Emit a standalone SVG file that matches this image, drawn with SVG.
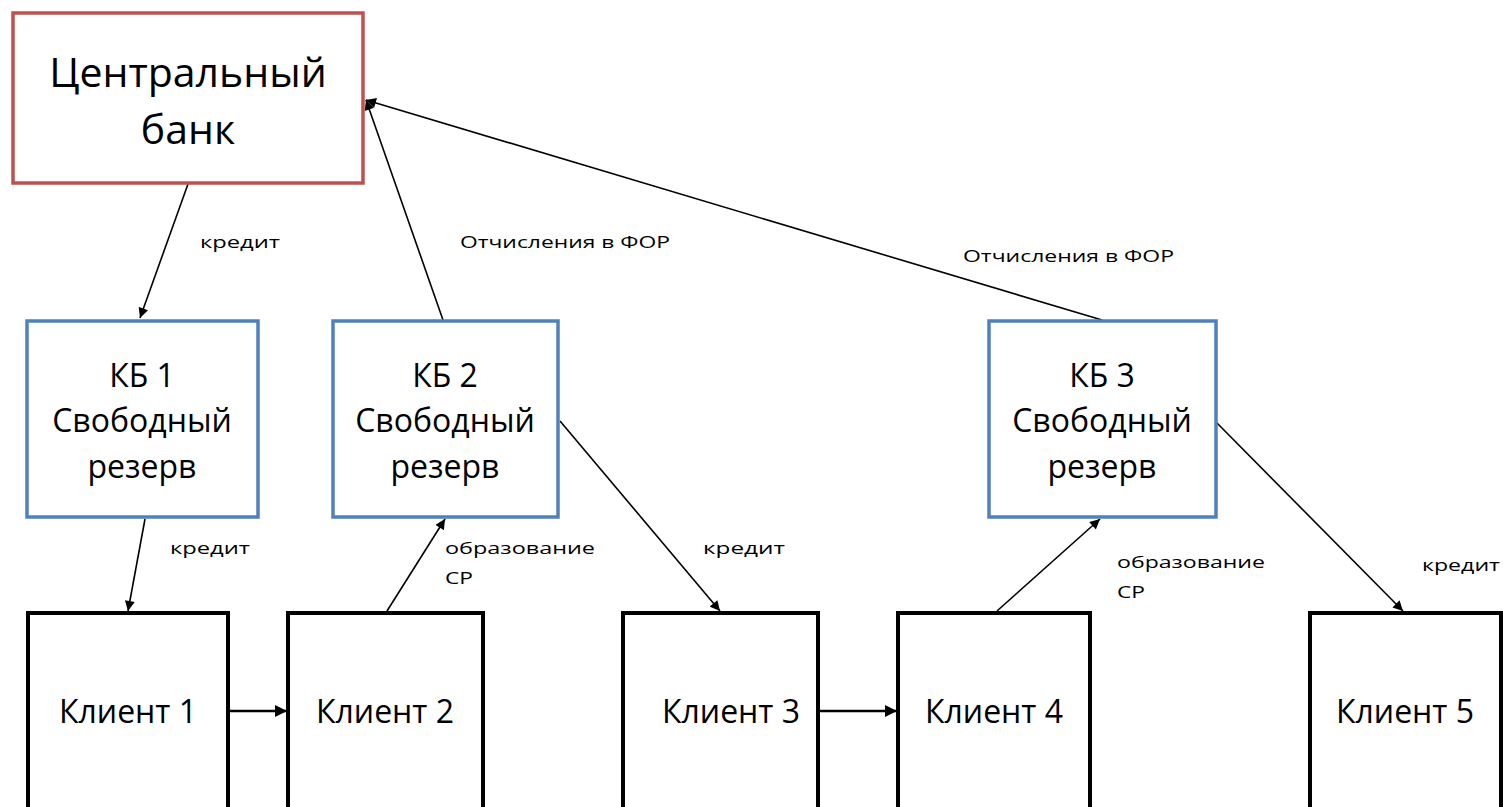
<svg xmlns="http://www.w3.org/2000/svg" width="1503" height="807" viewBox="0 0 1503 807">
<style>
.big{font-family:"Open Sans","Liberation Sans",sans-serif;font-size:41px;fill:#000;text-anchor:middle}
.mid{font-family:"Open Sans","Liberation Sans",sans-serif;font-size:32px;fill:#000;text-anchor:middle}
.lbl{font-family:"Open Sans","Liberation Sans",sans-serif;font-size:17px;fill:#000}
.cb{fill:#fff;stroke:#C0504D;stroke-width:3.5}
.kb{fill:#fff;stroke:#4F81BD;stroke-width:3.5}
.cl{fill:#fff;stroke:#000;stroke-width:4}
.ln{stroke:#000;stroke-width:1.6;fill:none;marker-end:url(#ah)}
.ln2{stroke:#000;stroke-width:2.5;fill:none;marker-end:url(#ah2)}
</style>
<defs>
<marker id="ah" viewBox="0 0 10 10" refX="10" refY="5" markerWidth="11" markerHeight="10" markerUnits="userSpaceOnUse" orient="auto"><path d="M0,0 L10,5 L0,10 z" fill="#000"/></marker>
<marker id="ah2" viewBox="0 0 10 10" refX="10" refY="5" markerWidth="12" markerHeight="12" markerUnits="userSpaceOnUse" orient="auto"><path d="M0,0 L10,5 L0,10 z" fill="#000"/></marker>
</defs>
<rect width="1503" height="807" fill="#fff"/>
<g id="connectors">
<line class="ln" x1="188" y1="184" x2="140" y2="318"/>
<line class="ln" x1="443" y1="320" x2="366" y2="100"/>
<line class="ln" x1="1102" y1="320" x2="366" y2="100"/>
<line class="ln" x1="145" y1="519" x2="128" y2="611"/>
<line class="ln" x1="387" y1="611" x2="445" y2="519"/>
<line class="ln" x1="560" y1="421" x2="720" y2="611"/>
<line class="ln" x1="997" y1="611" x2="1100" y2="519"/>
<line class="ln" x1="1216" y1="422" x2="1403" y2="611"/>
<line class="ln2" x1="230" y1="711" x2="287" y2="711"/>
<line class="ln2" x1="820" y1="711" x2="897" y2="711"/>
<text class="lbl" x="200" y="248" textLength="80" lengthAdjust="spacingAndGlyphs">кредит</text>
<text class="lbl" x="460" y="248" textLength="210" lengthAdjust="spacingAndGlyphs">Отчисления в ФОР</text>
<text class="lbl" x="963" y="262" textLength="211" lengthAdjust="spacingAndGlyphs">Отчисления в ФОР</text>
<text class="lbl" x="170" y="554" textLength="80" lengthAdjust="spacingAndGlyphs">кредит</text>
<text class="lbl" x="445" y="554" textLength="150" lengthAdjust="spacingAndGlyphs">образование</text>
<text class="lbl" x="445" y="584" textLength="28" lengthAdjust="spacingAndGlyphs">СР</text>
<text class="lbl" x="703" y="554" textLength="82" lengthAdjust="spacingAndGlyphs">кредит</text>
<text class="lbl" x="1117" y="568" textLength="148" lengthAdjust="spacingAndGlyphs">образование</text>
<text class="lbl" x="1117" y="598" textLength="28" lengthAdjust="spacingAndGlyphs">СР</text>
<text class="lbl" x="1422" y="571" textLength="78" lengthAdjust="spacingAndGlyphs">кредит</text>
</g>
<g id="cb"><rect class="cb" x="13" y="13" width="350" height="170"/><text class="big" x="188" y="87">Центральный</text><text class="big" x="188" y="144">банк</text></g>
<g id="kb1"><rect class="kb" x="27" y="321" width="231" height="196"/><text class="mid" x="142" y="387">КБ 1</text><text class="mid" x="142" y="432">Свободный</text><text class="mid" x="142" y="478">резерв</text></g>
<g id="kb2"><rect class="kb" x="333" y="321" width="225" height="196"/><text class="mid" x="445" y="387">КБ 2</text><text class="mid" x="445" y="432">Свободный</text><text class="mid" x="445" y="478">резерв</text></g>
<g id="kb3"><rect class="kb" x="989" y="321" width="227" height="196"/><text class="mid" x="1102" y="387">КБ 3</text><text class="mid" x="1102" y="432">Свободный</text><text class="mid" x="1102" y="478">резерв</text></g>
<g id="c1"><rect class="cl" x="28" y="613" width="200" height="200"/><text class="mid" x="128" y="723">Клиент 1</text></g>
<g id="c2"><rect class="cl" x="288" y="613" width="195" height="200"/><text class="mid" x="385" y="723">Клиент 2</text></g>
<g id="c3"><rect class="cl" x="623" y="613" width="195" height="200"/><text class="mid" x="731" y="723">Клиент 3</text></g>
<g id="c4"><rect class="cl" x="898" y="613" width="192" height="200"/><text class="mid" x="994" y="723">Клиент 4</text></g>
<g id="c5"><rect class="cl" x="1310" y="613" width="191" height="200"/><text class="mid" x="1405" y="723">Клиент 5</text></g>
</svg>
